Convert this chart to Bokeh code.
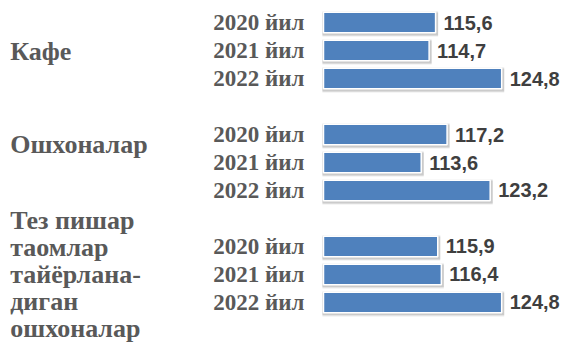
from bokeh.plotting import figure
from bokeh.models import ColumnDataSource, Range1d, Label
from bokeh.core.properties import value
from bokeh.embed import file_html
from bokeh.resources import INLINE

# ---- data ----
categories = ["Кафе", "Ошхоналар", "Тез пишар\nтаомлар\nтайёрлана-\nдиган\nошхоналар"]
years = ["2020 йил", "2021 йил", "2022 йил"]
kafe = [115.6, 114.7, 124.8]
oshxona = [117.2, 113.6, 123.2]
tez = [115.9, 116.4, 124.8]
series = [kafe, oshxona, tez]
axis_start = 100

ys, vals, labels, ylabs = [], [], [], []
for g, vs in enumerate(series):
    for r, v in enumerate(vs):
        ys.append(g * 4 + r)
        vals.append(v)
        labels.append(f"{v:.1f}".replace(".", ","))
        ylabs.append(years[r])

src = ColumnDataSource(dict(y=ys, v=vals, left=[axis_start] * len(vals), lab=labels, ylab=ylabs))
shadow = ColumnDataSource(dict(y=[y + 0.05 for y in ys], v=[v + 0.35 for v in vals],
                               left=[axis_start - 0.15] * len(vals)))

W, H = 561, 345
LEFT = 323
PX = 7.185
p = figure(width=W, height=H, output_backend="svg", toolbar_location=None,
           x_range=Range1d(axis_start - LEFT / PX, axis_start + (W - LEFT) / PX),
           y_range=Range1d(11.536, -0.786))
p.min_border = 0
p.outline_line_color = None
p.background_fill_color = "white"
p.border_fill_color = "white"
p.grid.visible = False
p.axis.visible = False

# soft shadow behind bars
p.hbar(y="y", right="v", left="left", height=0.9, source=shadow,
       fill_color="#7f7f7f", fill_alpha=0.15, line_color=None)
p.hbar(y="y", right="v", left="left", height=0.82, source=shadow,
       fill_color="#7f7f7f", fill_alpha=0.3, line_color=None)
# bars
p.hbar(y="y", right="v", left="left", height=0.734, source=src,
       fill_color="#4F81BD", line_color="white", line_width=1.5)

# year labels
p.text(x="left", y="y", text="ylab", source=src, x_offset=-19,
       text_font=value("Liberation Serif"), text_font_style="bold",
       text_font_size="23px", text_color="#595959",
       text_baseline="middle", text_align="right")

# value labels
p.text(x="v", y="y", text="lab", source=src, x_offset=8,
       text_font=value("Liberation Sans"), text_font_style="bold",
       text_font_size="20px", text_color="#3f3f3f",
       text_baseline="middle", text_align="left")

# category labels
cat_y = [1.05, 4.35, 9]
for c, yy in zip(categories, cat_y):
    p.add_layout(Label(x=9.7, x_units="screen", y=yy, text=c,
                       text_font="Liberation Serif", text_font_style="bold",
                       text_font_size="26px", text_color="#595959",
                       text_baseline="middle", text_align="left",
                       text_line_height=0.93))

open("out.html", "w").write(file_html(p, INLINE))
